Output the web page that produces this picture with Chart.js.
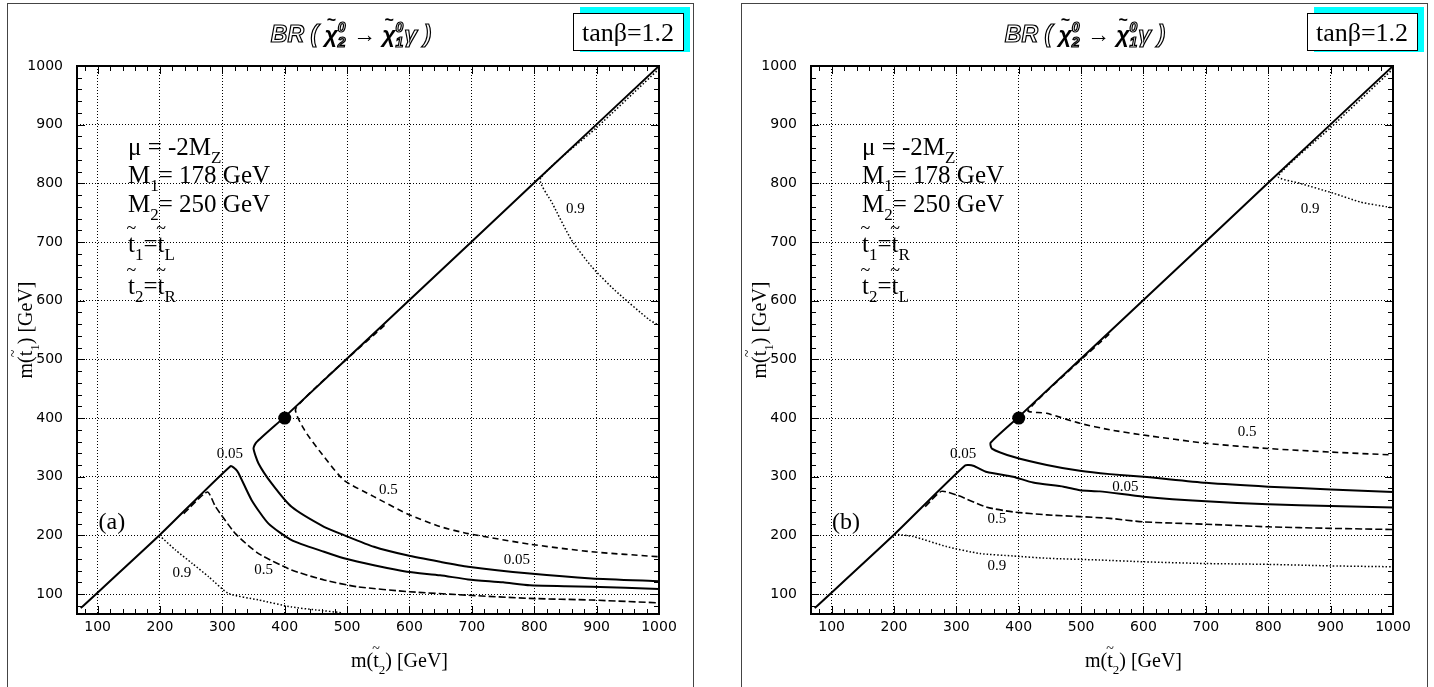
<!DOCTYPE html>
<html><head><meta charset="utf-8">
<script src="https://cdn.jsdelivr.net/npm/chart.js@4.4.0/dist/chart.umd.min.js"></script>
<style>
html,body{margin:0;padding:0;background:#fff;overflow:hidden;width:1434px;height:687px;}
.pane{position:absolute;top:0;width:700px;height:687px;}
#pa{left:0}
#pb{left:734px}
</style></head><body>
<div class="pane" id="pa"><canvas id="ca" width="700" height="687"></canvas></div>
<div class="pane" id="pb"><canvas id="cb" width="700" height="687"></canvas></div>
<script>
// ---------- axis ticks ----------
const xTicks = [100,200,300,400,500,600,700,800,900,1000];
const yTicks = [100,200,300,400,500,600,700,800,900,1000];
const xMin = 67, xMax = 1000, yMin = 66, yMax = 1000;

// ---------- panel (a) contours ----------
const aLo05X = [73,200,313,321,326,347,374,411,463,495,543,596,649,694,750,793,850,892,1000];
const aLo05Y = [76,201,318,313,306,260,220,192,172,161,149,138,132,125,120,115,113.5,112.5,108.5];
const aHi05X = [1000,892,793,694,649,596,543,495,463,411,379,358,350,354,400,600,800,1000];
const aHi05Y = [122,126.7,135,146.6,155,166,180.6,200.5,214.6,248.7,288.6,322.6,348,358,402,601,801,1000];
const aHi5X  = [560,418,432,463,495,543,596,649,694,793,892,1000];
const aHi5Y  = [558,417,379,334,294,266,237,215,203,185,172,163.6];
const aLo5X  = [238,276,289,321,358,411,463,516,600,694,793,892,1000];
const aLo5Y  = [237,274,249,203,169,141,124,112.5,104,98,92.6,89.8,85];
const aLo9X  = [199,225,252,278,310,358,411,450,493];
const aLo9Y  = [200,175,152,129.5,101,90,78,73,68];
const aHi9X  = [1000,900,810,829,860,892,929,985,1000];
const aHi9Y  = [995,895,808,766,703,658,618,567,558];

// ---------- panel (b) contours ----------
const bLo05X = [73,200,314,327,349,391,423,472,498,530,600,700,800,900,1000];
const bLo05Y = [76,201,319,318.6,308,300,290,283,277,275,266,258,253,250,247.5];
const bHi05X = [1000,900,800,700,600,546,498,445,391,357,355,400,600,800,1000];
const bHi05Y = [274,278.4,283,289.6,300,304.4,310,320,334,348,358,402,601,801,1000];
const bHi5X  = [545,415,445,498,546,600,700,800,900,1000];
const bHi5Y  = [543,413,408,391,380,371,357,348,342,337];
const bLo5X  = [250,276,300,349,391,445,498,546,600,700,800,900,1000];
const bLo5Y  = [249,275,269,248,240,235,232,229,223,219,214.6,212,210];
const bLo9X  = [201,231,284,338,391,445,530,600,700,800,900,1000];
const bLo9Y  = [202,198,181,169,165,161,158,155,152,150.6,148,146.5];
const bHi9X  = [1000,900,816,851,905,948,990,1000];
const bHi9Y  = [995,895,812,800,783,768,760,758];

// marked point
const dotX = [400];
const dotY = [400];

// contour labels
const aLabelText = ['0.05','0.5','0.05','0.5','0.9','0.9'];
const aLabelX    = [312,566,772,366,235,866];
const aLabelY    = [338,278,158,141,135,757];
const bLabelText = ['0.05','0.5','0.9','0.5','0.05','0.9'];
const bLabelX    = [311,365,365,766,571,867];
const bLabelY    = [338,227,148,376,283,757];

function pts(X, Y){ return X.map((x,i)=>({x:x, y:Y[i]})); }

// ---------- rich text helper ----------
function segW(ctx, s, size, fam, style){
  if (s.ss){
    ctx.font = `${style} ${Math.round(size*0.62)}px ${fam}`;
    return Math.max(ctx.measureText(s.ss[0]).width, ctx.measureText(s.ss[1]).width) + 1;
  }
  const fs = (s.sub||s.sup) ? Math.round(size*0.66) : size;
  ctx.font = `${style} ${fs}px ${fam}`;
  return ctx.measureText(s.t).width;
}
function drawRich(ctx, x, y, segs, size, fam, style, align){
  let w = 0;
  segs.forEach(s => { w += segW(ctx, s, size, fam, style); });
  let cx = align === 'center' ? x - w/2 : (align === 'right' ? x - w : x);
  ctx.textAlign = 'left';
  ctx.textBaseline = 'alphabetic';
  const put = (s, t, px, py) => {
    if (s.o){
      ctx.fillStyle = s.fill || '#fff'; ctx.fillText(t, px, py);
      ctx.strokeStyle = '#000'; ctx.lineWidth = 1.2; ctx.strokeText(t, px, py);
    } else {
      ctx.fillStyle = '#000'; ctx.fillText(t, px, py);
    }
  };
  segs.forEach(s => {
    const sw = segW(ctx, s, size, fam, style);
    if (s.ss){
      ctx.font = `${style} ${Math.round(size*0.62)}px ${fam}`;
      put(s, s.ss[0], cx, y - size*0.42);
      put({o:s.o, fill:s.fill2}, s.ss[1], cx, y + size*0.22);
    } else {
      const fs = (s.sub||s.sup) ? Math.round(size*0.66) : size;
      ctx.font = `${style} ${fs}px ${fam}`;
      const dy = s.sub ? size*0.33 : (s.sup ? -size*0.4 : 0);
      put(s, s.t, cx, y + dy);
    }
    if (s.tilde){
      ctx.font = `${style} ${Math.round(size*0.7)}px ${fam}`;
      const tw = ctx.measureText('~').width;
      put({o:s.o}, '~', cx + sw/2 - tw/2, y - size*0.72);
    }
    cx += sw;
  });
  return w;
}

const SERIF = '"Liberation Serif", "Times New Roman", serif';
const SANS = '"Liberation Sans", Arial, sans-serif';

const titleSegs = [
  {t:'BR ( ', o:true},
  {t:'χ', tilde:true},
  {ss:['0','2'], o:true, fill2:'#999'},
  {t:' → '},
  {t:'χ', tilde:true},
  {ss:['0','1'], o:true},
  {t:'γ )', o:true}
];

const panelPlugin = {
  id: 'panel',
  beforeDraw(chart, args, o){
    const ctx = chart.ctx;
    ctx.save();
    ctx.fillStyle = '#fff';
    ctx.fillRect(0, 0, chart.width, chart.height);
    ctx.strokeStyle = '#444'; ctx.lineWidth = 1;
    ctx.strokeRect(7.5, 3.5, 686, 700);
    // tan beta box with cyan shadow
    ctx.fillStyle = '#00ffff';
    ctx.fillRect(580, 7, 110, 45);
    ctx.fillStyle = '#fff';
    ctx.fillRect(573, 13, 110, 37);
    ctx.strokeStyle = '#000'; ctx.lineWidth = 1;
    ctx.strokeRect(573.5, 13.5, 110, 37);
    ctx.fillStyle = '#000';
    ctx.font = '26px ' + SERIF;
    ctx.textAlign = 'center'; ctx.textBaseline = 'alphabetic';
    ctx.fillText('tanβ=1.2', 628, 41);
    // title
    drawRich(ctx, 351, 42, titleSegs, 23, SANS, 'italic bold', 'center');
    ctx.restore();
  },
  afterDatasetsDraw(chart, args, o){
    const ctx = chart.ctx;
    const a = chart.chartArea;
    const xs = chart.scales.x, ys = chart.scales.y;
    ctx.save();
    // axis box
    ctx.strokeStyle = '#000'; ctx.lineWidth = 2;
    ctx.strokeRect(a.left, a.top, a.right - a.left, a.bottom - a.top);
    // inward ticks
    ctx.lineWidth = 1;
    ctx.beginPath();
    for (let v = 80; v <= xMax; v += 20){
      const p = Math.round(xs.getPixelForValue(v)) + 0.5;
      const len = (v % 100 === 0) ? 8 : 5;
      ctx.moveTo(p, a.bottom); ctx.lineTo(p, a.bottom - len);
      ctx.moveTo(p, a.top); ctx.lineTo(p, a.top + len);
    }
    for (let v = 80; v <= yMax; v += 20){
      const p = Math.round(ys.getPixelForValue(v)) + 0.5;
      const len = (v % 100 === 0) ? 8 : 5;
      ctx.moveTo(a.left, p); ctx.lineTo(a.left + len, p);
      ctx.moveTo(a.right, p); ctx.lineTo(a.right - len, p);
    }
    ctx.stroke();
    // contour labels
    ctx.fillStyle = '#000';
    ctx.font = '15px ' + SERIF;
    ctx.textAlign = 'center'; ctx.textBaseline = 'middle';
    o.labelText.forEach((t, i) => {
      ctx.fillText(t, xs.getPixelForValue(o.labelX[i]), ys.getPixelForValue(o.labelY[i]));
    });
    // panel tag
    ctx.font = '24px ' + SERIF;
    ctx.fillText(o.tag, xs.getPixelForValue(123), ys.getPixelForValue(222));
    // parameter block
    const L = a.left + 51;
    const fam = SERIF;
    const fs = 25;
    drawRich(ctx, L, a.top + 89, [{t:'μ = -2M'},{t:'Z', sub:true}], fs, fam, '', 'left');
    drawRich(ctx, L, a.top + 117, [{t:'M'},{t:'1', sub:true},{t:'= 178 GeV'}], fs, fam, '', 'left');
    drawRich(ctx, L, a.top + 146, [{t:'M'},{t:'2', sub:true},{t:'= 250 GeV'}], fs, fam, '', 'left');
    drawRich(ctx, L, a.top + 186, [{t:'t', tilde:true},{t:'1', sub:true},{t:'='},{t:'t', tilde:true},{t:o.t1, sub:true}], fs, fam, '', 'left');
    drawRich(ctx, L, a.top + 228, [{t:'t', tilde:true},{t:'2', sub:true},{t:'='},{t:'t', tilde:true},{t:o.t2, sub:true}], fs, fam, '', 'left');
    // axis titles
    drawRich(ctx, 448, 667, [{t:'m('},{t:'t', tilde:true},{t:'2', sub:true},{t:') [GeV]'}], 20, fam, '', 'right');
    ctx.translate(32, 330);
    ctx.rotate(-Math.PI/2);
    drawRich(ctx, 0, 0, [{t:'m('},{t:'t', tilde:true},{t:'1', sub:true},{t:') [GeV]'}], 20, fam, '', 'center');
    ctx.restore();
  }
};

function lineDs(X, Y, width, dash){
  return {
    data: pts(X, Y), showLine: true, borderColor: '#000', backgroundColor: '#000',
    borderWidth: width, borderDash: dash, pointRadius: 0, pointHoverRadius: 0,
    tension: 0.2, fill: false
  };
}

function makePanel(id, curves, labels, tag, t1, t2){
  const datasets = [
    lineDs(curves.lo05X, curves.lo05Y, 2, []),
    lineDs(curves.hi05X, curves.hi05Y, 2, []),
    lineDs(curves.hi5X, curves.hi5Y, 1.6, [6,4]),
    lineDs(curves.lo5X, curves.lo5Y, 1.6, [7,3]),
    lineDs(curves.lo9X, curves.lo9Y, 1.5, [1.5,2]),
    lineDs(curves.hi9X, curves.hi9Y, 1.5, [1.5,2]),
    { data: pts(dotX, dotY), showLine: false, pointRadius: 6.5, pointBackgroundColor: '#000',
      pointBorderColor: '#000', pointBorderWidth: 0 }
  ];
  const tickFont = { family: '"DejaVu Sans", "Liberation Sans", sans-serif', size: 14 };
  return new Chart(document.getElementById(id), {
    type: 'scatter',
    data: { datasets },
    plugins: [panelPlugin],
    options: {
      responsive: false, animation: false, devicePixelRatio: 1,
      layout: { padding: { left: 0, right: 41, top: 66, bottom: 23 } },
      plugins: {
        legend: { display: false }, tooltip: { enabled: false }, title: { display: false },
        panel: { labelText: labels.text, labelX: labels.x, labelY: labels.y, tag, t1, t2 }
      },
      events: [],
      scales: {
        x: {
          type: 'linear', min: xMin, max: xMax,
          afterBuildTicks: s => { s.ticks = xTicks.map(v => ({ value: v })); },
          afterFit: s => { s.height = 50; },
          grid: { color: '#000', lineWidth: 1, drawTicks: false },
          border: { display: false, dash: [1, 2] },
          ticks: { color: '#000', padding: 5, maxRotation: 0, autoSkip: false,
                   font: tickFont, callback: v => String(v) }
        },
        y: {
          type: 'linear', min: yMin, max: yMax,
          afterBuildTicks: s => { s.ticks = yTicks.map(v => ({ value: v })); },
          afterFit: s => { s.width = 77; },
          grid: { color: '#000', lineWidth: 1, drawTicks: false },
          border: { display: false, dash: [1, 2] },
          ticks: { color: '#000', padding: 14, autoSkip: false,
                   font: tickFont, callback: v => String(v) }
        }
      }
    }
  });
}

makePanel('ca',
  { lo05X: aLo05X, lo05Y: aLo05Y, hi05X: aHi05X, hi05Y: aHi05Y, hi5X: aHi5X, hi5Y: aHi5Y,
    lo5X: aLo5X, lo5Y: aLo5Y, lo9X: aLo9X, lo9Y: aLo9Y, hi9X: aHi9X, hi9Y: aHi9Y },
  { text: aLabelText, x: aLabelX, y: aLabelY }, '(a)', 'L', 'R');
makePanel('cb',
  { lo05X: bLo05X, lo05Y: bLo05Y, hi05X: bHi05X, hi05Y: bHi05Y, hi5X: bHi5X, hi5Y: bHi5Y,
    lo5X: bLo5X, lo5Y: bLo5Y, lo9X: bLo9X, lo9Y: bLo9Y, hi9X: bHi9X, hi9Y: bHi9Y },
  { text: bLabelText, x: bLabelX, y: bLabelY }, '(b)', 'R', 'L');
</script>
</body></html>
